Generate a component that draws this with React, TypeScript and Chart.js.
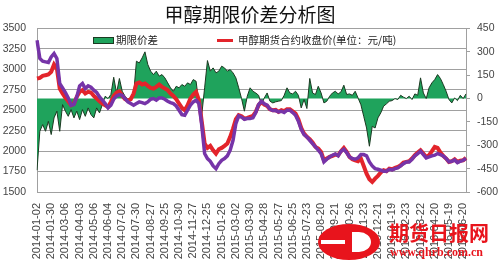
import React, { useEffect, useRef } from 'react';
import { Chart, registerables } from 'chart.js';

Chart.register(...registerables);

const chartTitle = '甲醇期限价差分析图';
const spreadLabel = '期限价差';
const futuresLabel = '甲醇期货合约收盘价(单位：元/吨)';
const spotLabel = '现货价';

const tickLabels = [
  '2014-01-02', '2014-01-30', '2014-03-06', '2014-04-03', '2014-05-06', '2014-06-04',
  '2014-07-02', '2014-07-30', '2014-08-27', '2014-09-25', '2014-10-30', '2014-11-27',
  '2014-12-25', '2015-01-26', '2015-03-02', '2015-03-30', '2015-04-28', '2015-05-27',
  '2015-06-25', '2015-07-23', '2015-08-20', '2015-09-21', '2015-10-26', '2015-11-23',
  '2015-12-21', '2016-01-19', '2016-02-23', '2016-03-22', '2016-04-20', '2016-05-19',
  '2016-06-20',
];
const pointsPerTick = 5;

const futuresClose = [
  2888, 2896, 2920, 2929, 2937, 2970, 3060, 3010, 2766, 2704,
  2651, 2610, 2562, 2582, 2664, 2725, 2746, 2705, 2725, 2717,
  2676, 2643, 2610, 2582, 2562, 2541, 2602, 2676, 2717, 2733,
  2676, 2635, 2619, 2635, 2704, 2827, 2839, 2815, 2827, 2798,
  2774, 2766, 2786, 2815, 2786, 2766, 2746, 2705, 2676, 2635,
  2582, 2529, 2500, 2562, 2643, 2692, 2725, 2623, 2358, 2092,
  2039, 2064, 2011, 1970, 2023, 2039, 2064, 2092, 2174, 2276,
  2390, 2439, 2427, 2398, 2407, 2419, 2431, 2480, 2562, 2602,
  2570, 2553, 2513, 2500, 2504, 2480, 2500, 2488, 2513, 2513,
  2488, 2460, 2390, 2284, 2215, 2174, 2145, 2105, 2052, 2031,
  1990, 1888, 1909, 1929, 1942, 1958, 1950, 1999, 2039, 1990,
  1929, 1901, 1888, 1876, 1909, 1819, 1725, 1656, 1623, 1664,
  1697, 1738, 1766, 1754, 1786, 1778, 1795, 1807, 1827, 1860,
  1868, 1876, 1909, 1950, 1982, 2011, 1970, 1929, 1950, 1999,
  2052, 2039, 1982, 1942, 1909, 1868, 1876, 1901, 1868, 1884,
  1888, 1917,
];

const spotPrice = [
  3357, 3133, 3100, 3092, 3084, 3153, 3194, 3133, 2827, 2774,
  2717, 2651, 2562, 2570, 2664, 2798, 2827, 2766, 2798, 2782,
  2746, 2717, 2664, 2623, 2582, 2529, 2562, 2635, 2676, 2692,
  2684, 2643, 2602, 2582, 2562, 2582, 2602, 2594, 2582, 2602,
  2635, 2643, 2623, 2651, 2651, 2635, 2610, 2594, 2582, 2553,
  2500, 2447, 2439, 2500, 2562, 2602, 2623, 2582, 2317, 1970,
  1909, 1876, 1819, 1786, 1847, 1888, 1909, 1942, 2011, 2133,
  2337, 2431, 2415, 2390, 2398, 2398, 2407, 2472, 2570, 2610,
  2578, 2562, 2513, 2496, 2496, 2480, 2488, 2472, 2500, 2500,
  2472, 2439, 2366, 2268, 2203, 2174, 2133, 2092, 2052, 2011,
  1970, 1868, 1901, 1929, 1950, 1966, 1942, 1999, 2023, 1982,
  1929, 1909, 1901, 1917, 1958, 1958, 1942, 1868, 1819, 1786,
  1778, 1766, 1754, 1754, 1778, 1770, 1786, 1795, 1819, 1847,
  1868, 1868, 1901, 1942, 1970, 1999, 1958, 1917, 1929, 1942,
  1950, 1970, 1958, 1942, 1909, 1868, 1876, 1893, 1860, 1876,
  1888, 1909,
];

const basisSpread = [
  -460, -210, -167, -210, -146, -231, -124, -81, -210, -39,
  -81, -114, -71, -124, -81, -135, -71, -114, -60, -103,
  -124, -60, -92, -39, 15, 0, 26, 137, 36, 129,
  47, 15, -6, 9, 26, 240, 229, 261, 300, 219,
  176, 154, 176, 144, 154, 133, 101, 69, 47, 79,
  69, 90, 79, 101, 90, 122, 111, -39, -103, 69,
  244, 176, 197, 165, 176, 208, 197, 176, 186, 165,
  133, 69, 0, -81, 15, 69, 47, 36, 21, -39,
  4, 36, -17, -28, -21, -17, -13, 21, 69, 36,
  30, 47, 21, -60, -6, -64, 129, 36, 26, 79,
  36, -28, -17, 15, 36, 47, 30, 43, 86, 26,
  30, 21, 47, 4, -39, -114, -189, -306, -178, -189,
  -124, -92, -49, -34, -17, -13, 0, -6, 21, 9,
  0, 15, -6, 30, 21, 133, 36, 0, 69, 101,
  122, 154, 129, 90, 47, -6, -28, 4, -13, 21,
  0, 30,
];

const categories = futuresClose.map((_, i) =>
  i % pointsPerTick === 0 ? tickLabels[i / pointsPerTick] ?? '' : ''
);

const GREEN = '#1fa35c';
const GREEN_EDGE = '#1c3a22';
const RED = '#e3242b';
const PURPLE = '#7634a8';
const GRID = '#a0a0a0';
const TICK = '#444444';
const WM = '#e8141c';

const insideLegend = {
  id: 'insideLegend',
  afterDatasetsDraw(chart: any) {
    const { ctx, chartArea } = chart;
    const l = chartArea.left;
    const t = chartArea.top;
    ctx.save();
    ctx.fillStyle = GREEN;
    ctx.fillRect(l + 56, t + 8.5, 21, 7);
    ctx.strokeStyle = GREEN_EDGE;
    ctx.lineWidth = 1;
    ctx.strokeRect(l + 56.5, t + 9, 20, 6);
    ctx.font = '10.5px "Noto Sans CJK SC"';
    ctx.fillStyle = '#222';
    ctx.textBaseline = 'middle';
    ctx.fillText(spreadLabel, l + 79, t + 12);
    ctx.strokeStyle = RED;
    ctx.lineWidth = 3;
    ctx.beginPath();
    ctx.moveTo(l + 180, t + 12);
    ctx.lineTo(l + 196, t + 12);
    ctx.stroke();
    ctx.fillText(futuresLabel, l + 201, t + 12);
    ctx.restore();
  },
};

const watermark = {
  id: 'watermark',
  afterDraw(chart: any) {
    const { ctx } = chart;
    ctx.save();
    ctx.fillStyle = WM;
    ctx.beginPath();
    ctx.ellipse(349, 242, 31, 18, 0, 0, Math.PI * 2);
    ctx.fill();
    ctx.fillStyle = '#ffffff';
    ctx.beginPath();
    ctx.ellipse(359, 242, 12, 10, 0, -Math.PI / 2, Math.PI / 2);
    ctx.lineTo(352, 252);
    ctx.lineTo(352, 232);
    ctx.closePath();
    ctx.fill();
    ctx.fillRect(321, 240, 24, 4);
    ctx.fillStyle = WM;
    ctx.font = 'bold 20px "Noto Sans CJK SC"';
    ctx.textBaseline = 'middle';
    ctx.fillText('期货日报网', 389, 233);
    ctx.font = 'bold 12px "Liberation Serif"';
    ctx.fillText('www.qhrb.com.cn', 390, 253);
    ctx.restore();
  },
};

export default function App() {
  const ref = useRef<HTMLCanvasElement>(null);
  useEffect(() => {
    document.body.style.margin = '0';
    const canvas = ref.current;
    if (!canvas) return;
    const tickFont = { family: '"Liberation Sans", Arial, sans-serif', size: 10.5 };
    const plain = (v: any) => String(v);
    const chart = new Chart(canvas, {
      type: 'line',
      data: {
        labels: categories,
        datasets: [
          {
            label: spotLabel,
            data: spotPrice,
            yAxisID: 'y',
            borderColor: PURPLE,
            borderWidth: 3.5,
            pointRadius: 0,
            fill: false,
            tension: 0,
          },
          {
            label: futuresLabel,
            data: futuresClose,
            yAxisID: 'y',
            borderColor: RED,
            borderWidth: 4,
            pointRadius: 0,
            fill: false,
            tension: 0,
          },
          {
            label: spreadLabel,
            data: basisSpread,
            yAxisID: 'y1',
            borderColor: GREEN_EDGE,
            backgroundColor: GREEN,
            borderWidth: 1,
            pointRadius: 0,
            fill: 'origin',
            tension: 0,
          },
        ],
      },
      options: {
        responsive: false,
        animation: false,
        devicePixelRatio: 1,
        layout: { padding: 0 },
        plugins: {
          legend: { display: false },
          tooltip: { enabled: false },
          title: {
            display: true,
            text: chartTitle,
            color: '#111',
            font: { family: '"Noto Sans CJK SC"', size: 19, weight: 'normal' },
            padding: { top: 3, bottom: 2.7 },
          },
        },
        scales: {
          x: {
            type: 'category',
            offset: false,
            grid: { display: false, drawTicks: false },
            border: { display: true, color: GRID },
            ticks: {
              autoSkip: false,
              minRotation: 90,
              maxRotation: 90,
              padding: 11,
              color: TICK,
              font: { family: '"Liberation Sans", Arial, sans-serif', size: 11 },
            },
            afterFit: (s: any) => { s.height = 80; },
          },
          y: {
            position: 'left',
            min: 1500,
            max: 3500,
            ticks: { stepSize: 250, padding: 11, color: TICK, font: tickFont, callback: plain },
            grid: { color: GRID, drawTicks: false, lineWidth: 1 },
            border: { display: true, color: GRID },
            afterFit: (s: any) => { s.width = 37; },
          },
          y1: {
            position: 'right',
            min: -600,
            max: 450,
            ticks: { stepSize: 150, padding: 7, color: TICK, font: tickFont, callback: plain },
            grid: { drawOnChartArea: false, drawTicks: true, tickLength: 4, color: GRID },
            border: { display: true, color: GRID },
            afterFit: (s: any) => { s.width = 34; },
          },
        },
      },
      plugins: [insideLegend, watermark],
    });
    return () => chart.destroy();
  }, []);
  return (
    <div style={{ width: 500, height: 272 }}>
      <canvas ref={ref} width={500} height={272} style={{ display: 'block' }} />
    </div>
  );
}
